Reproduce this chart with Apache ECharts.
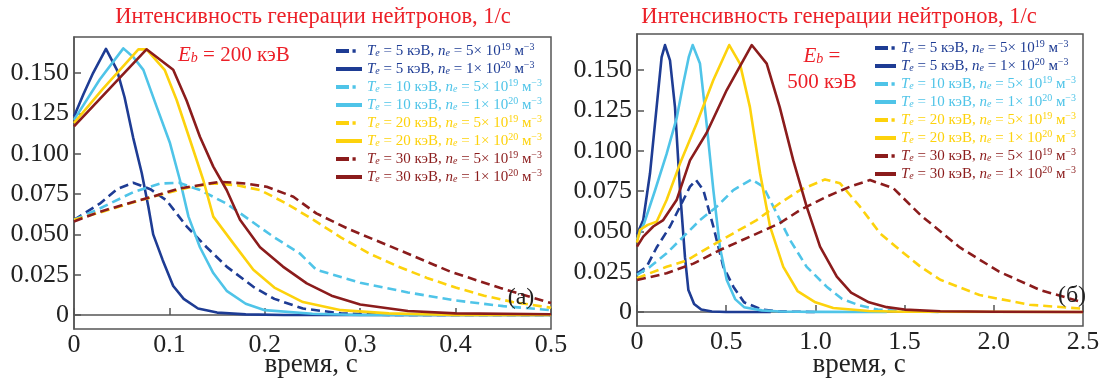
<!DOCTYPE html>
<html>
<head>
<meta charset="utf-8">
<script src="https://cdn.jsdelivr.net/npm/echarts@6/dist/echarts.min.js"></script>
<style>
  html, body { margin: 0; padding: 0; background: #fff; }
  #chart { width: 1101px; height: 385px; }
</style>
</head>
<body>
<div id="chart"></div>
<script>
// (а) Eb = 200 кэВ, время 0..0.5 c
const a_5_19 = [[0,.059],[.027,.069],[.045,.078],[.062,.082],[.08,.078],[.097,.071],[.118,.055],[.139,.042],[.16,.030],[.188,.0175],[.21,.010],[.24,.004],[.28,.001],[.33,0],[.5,0]];
const a_5_20 = [[0,.123],[.01,.137],[.02,.150],[.0335,.165],[.045,.152],[.053,.135],[.062,.110],[.071,.088],[.078,.067],[.083,.050],[.093,.034],[.104,.018],[.115,.010],[.13,.004],[.15,.0015],[.18,.0004],[.22,0],[.5,0]];
const a_10_19 = [[0,.059],[.027,.066],[.0625,.0763],[.09,.0815],[.11,.082],[.132,.0775],[.16,.069],[.184,.059],[.209,.0485],[.237,.038],[.254,.028],[.3,.020],[.35,.014],[.4,.009],[.45,.0055],[.5,.003]];
const a_10_20 = [[0,.121],[.027,.146],[.0517,.1653],[.062,.160],[.0727,.152],[.0867,.129],[.1006,.1066],[.111,.0837],[.12,.061],[.132,.042],[.146,.026],[.16,.015],[.18,.007],[.2,.003],[.25,.0008],[.3,0],[.5,0]];
const a_20_19 = [[0,.059],[.03,.064],[.06,.0695],[.09,.0745],[.12,.079],[.146,.0816],[.17,.0805],[.195,.0775],[.223,.069],[.251,.059],[.28,.048],[.31,.038],[.34,.030],[.37,.023],[.4,.017],[.43,.012],[.46,.008],[.5,.0045]];
const a_20_20 = [[0,.119],[.03,.140],[.0675,.1647],[.076,.1647],[.095,.152],[.1076,.1333],[.1216,.1085],[.1355,.0837],[.146,.061],[.167,.0444],[.188,.028],[.21,.017],[.24,.008],[.28,.003],[.33,.001],[.4,0],[.5,0]];
const a_30_19 = [[0,.058],[.027,.064],[.05,.068],[.08,.073],[.111,.0785],[.153,.0826],[.18,.0815],[.202,.0795],[.23,.0733],[.254,.063],[.289,.053],[.342,.040],[.394,.027],[.447,.0167],[.5,.0074]];
const a_30_20 = [[0,.117],[.04,.142],[.076,.1647],[.104,.152],[.118,.133],[.132,.1105],[.146,.092],[.16,.0775],[.174,.059],[.195,.042],[.219,.030],[.244,.0196],[.27,.012],[.3,.0065],[.35,.0025],[.4,.001],[.5,.0005]];

// (б) Eb = 500 кэВ, время 0..2.5 c
const b_5_19 = [[0,.024],[.054,.028],[.11,.040],[.185,.053],[.241,.0653],[.297,.0777],[.331,.0818],[.372,.0756],[.428,.053],[.484,.028],[.54,.0157],[.6,.006],[.7,.0015],[.8,.0003],[1.0,0]];
const b_5_20 = [[0,.048],[.035,.057],[.073,.086],[.11,.127],[.138,.158],[.157,.1655],[.185,.156],[.213,.127],[.241,.0756],[.269,.034],[.288,.0136],[.32,.005],[.36,.0015],[.42,.0003],[.5,0],[.75,0]];
const b_10_19 = [[0,.023],[.073,.028],[.166,.0364],[.26,.0467],[.353,.057],[.447,.0653],[.54,.0756],[.643,.0822],[.708,.0777],[.783,.0612],[.858,.0446],[.951,.028],[1.063,.0157],[1.15,.008],[1.25,.004],[1.35,.0015],[1.5,.0005],[1.7,0]];
const b_10_20 = [[0,.045],[.04,.055],[.1,.075],[.166,.098],[.222,.12],[.26,.142],[.29,.158],[.312,.1655],[.353,.154],[.39,.117],[.428,.0756],[.465,.040],[.503,.0198],[.55,.008],[.6,.003],[.7,.001],[.8,.0003],[1.0,.0001],[1.4,0]];
const b_20_19 = [[0,.021],[.166,.028],[.279,.032],[.409,.0405],[.54,.0488],[.671,.057],[.80,.0674],[.914,.0756],[1.054,.0822],[1.138,.0798],[1.25,.0653],[1.362,.0488],[1.474,.0384],[1.59,.028],[1.70,.020],[1.92,.0105],[2.2,.0045],[2.5,.002]];
const b_20_20 = [[0,.043],[.017,.051],[.06,.054],[.11,.056],[.166,.0694],[.241,.092],[.335,.117],[.428,.1438],[.517,.1655],[.577,.154],[.633,.127],[.69,.086],[.746,.0529],[.82,.028],[.9,.013],[1.0,.006],[1.1,.0025],[1.3,.0006],[1.5,.0002],[2.5,0]];
const b_30_19 = [[0,.0198],[.166,.024],[.316,.030],[.465,.0384],[.633,.0467],[.80,.055],[.914,.0632],[1.063,.0715],[1.194,.0777],[1.306,.0818],[1.437,.0767],[1.59,.060],[1.81,.040],[2.03,.025],[2.26,.0136],[2.5,.006]];
const b_30_20 = [[0,.0405],[.035,.0467],[.091,.053],[.147,.057],[.222,.0694],[.297,.094],[.39,.111],[.503,.1376],[.643,.1655],[.727,.154],[.80,.127],[.876,.094],[.951,.0653],[1.026,.0405],[1.12,.0219],[1.2,.012],[1.3,.006],[1.4,.003],[1.5,.0015],[1.7,.0005],[2.0,.0002],[2.5,0]];

const leftXTicks = [0, 0.1, 0.2, 0.3, 0.4, 0.5];
const leftXLabels = ['0', '0.1', '0.2', '0.3', '0.4', '0.5'];
const rightXTicks = [0, 0.5, 1.0, 1.5, 2.0, 2.5];
const rightXLabels = ['0', '0.5', '1.0', '1.5', '2.0', '2.5'];
const yTicks = [0, 0.025, 0.05, 0.075, 0.1, 0.125, 0.15];
const yLabels = ['0', '0.025', '0.050', '0.075', '0.100', '0.125', '0.150'];

const temps = [5, 5, 10, 10, 20, 20, 30, 30];
const dens = ['5e19', '1e20', '5e19', '1e20', '5e19', '1e20', '5e19', '1e20'];
const leftData = [a_5_19, a_5_20, a_10_19, a_10_20, a_20_19, a_20_20, a_30_19, a_30_20];
const rightData = [b_5_19, b_5_20, b_10_19, b_10_20, b_20_19, b_20_20, b_30_19, b_30_20];

const colors = { 5: '#1e3c94', 10: '#4fc4e8', 20: '#fdd20c', 30: '#8b1c1c' };
const RED = '#ec2028';
const SERIF = '"Liberation Serif", "Times New Roman", serif';
const TITLE = 'Интенсивность генерации нейтронов, 1/с';
const X_NAME = 'время, с';

function pickLabel(v, ticks, labels) {
  const i = ticks.findIndex((t) => Math.abs(t - v) < 1e-9);
  return i < 0 ? '' : labels[i];
}

function legendLabel(te, ne) {
  const n = ne === '5e19' ? '5× 10{sup|19}' : '1× 10{sup|20}';
  return `{i|T}{sub|e} = ${te} кэВ, {i|n}{sub|e} = ${n} м{sup|−3}`;
}

const labelByName = {};
const series = [];
const legends = [[], []];

[leftData, rightData].forEach((group, g) => {
  group.forEach((data, k) => {
    const te = temps[k], ne = dens[k];
    const dashed = ne === '5e19';
    const name = `Te${te} ne${ne} ${g === 0 ? 'а' : 'б'}`;
    labelByName[name] = legendLabel(te, ne);
    const w = g === 0 ? 26 : 21;
    const icon = dashed
      ? `path://M0,0H13V4H0Z M16.5,0.3H19.7V3.7H16.5Z M${w - 0.1},0H${w}V0.1H${w - 0.1}Z`
      : `path://M0,0H${w}V4H0Z`;
    legends[g].push({ name, icon, textStyle: { color: colors[te] } });
    series.push({
      name,
      type: 'line',
      xAxisIndex: g,
      yAxisIndex: g,
      data,
      showSymbol: false,
      symbol: 'none',
      smooth: false,
      color: colors[te],
      lineStyle: { color: colors[te], width: 2.6, type: dashed ? [9, 5] : 'solid', join: 'round' },
      z: 2 + k,
    });
  });
});

const richLegend = {
  i: { fontFamily: SERIF, fontSize: 15, fontStyle: 'italic', lineHeight: 15 },
  sub: { fontFamily: SERIF, fontSize: 10, fontStyle: 'italic', lineHeight: 15, padding: [5, 0, 0, 0] },
  sup: { fontFamily: SERIF, fontSize: 10, lineHeight: 15, padding: [0, 0, 8, 0] },
};

function makeLegend(g, left, top, w) {
  return {
    data: legends[g],
    orient: 'vertical',
    left, top,
    itemWidth: w, itemHeight: 4,
    itemGap: 0,
    padding: 0,
    selectedMode: false,
    itemStyle: { borderWidth: 0 },
    formatter: (name) => labelByName[name],
    textStyle: { fontFamily: SERIF, fontSize: 15, lineHeight: 15, rich: richLegend },
  };
}

const axisCommon = {
  axisLine: { show: true, lineStyle: { color: '#555', width: 1.5 } },
  axisTick: { show: true, inside: true, length: 7, lineStyle: { color: '#555', width: 1.5 } },
  splitLine: { show: false },
};

function xAxis(g, max, interval, ticks, labels) {
  return Object.assign({}, axisCommon, {
    type: 'value', gridIndex: g, min: 0, max, interval,
    axisLabel: {
      fontFamily: SERIF, fontSize: 26, color: '#222', margin: 3,
      formatter: (v) => pickLabel(v, ticks, labels),
    },
  });
}

function yAxis(g) {
  return Object.assign({}, axisCommon, {
    type: 'value', gridIndex: g, min: -0.00868, max: 0.17235,
    minInterval: 0.025, maxInterval: 0.025,
    axisLabel: {
      fontFamily: SERIF, fontSize: 26, color: '#222', margin: 5,
      showMinLabel: false, showMaxLabel: false,
      formatter: (v) => pickLabel(v, yTicks, yLabels),
    },
  });
}

const gridStyle = {
  show: true, borderColor: '#555', borderWidth: 1.5, backgroundColor: 'transparent',
  containLabel: false, outerBoundsMode: 'none',
};

const subRich = (size) => ({
  i: { font: `italic ${size}px ${SERIF}` },
  s: { font: `italic ${Math.round(size * 0.68)}px ${SERIF}`, padding: [6, 0, 0, 0] },
});

function label(x, y, text, size, fill, align, rich) {
  return { type: 'text', x, y, z: 10, style: { text, font: `${size}px ${SERIF}`, fill, align, verticalAlign: 'middle', rich } };
}

const chart = echarts.init(document.getElementById('chart'), null, { renderer: 'canvas' });
chart.setOption({
  animation: false,
  backgroundColor: '#fff',
  grid: [
    Object.assign({ left: 74, top: 37, width: 477, height: 292 }, gridStyle),
    Object.assign({ left: 637, top: 34, width: 446, height: 292 }, gridStyle),
  ],
  xAxis: [
    xAxis(0, 0.5, 0.1, leftXTicks, leftXLabels),
    xAxis(1, 2.5, 0.5, rightXTicks, rightXLabels),
  ],
  yAxis: [yAxis(0), yAxis(1)],
  legend: [makeLegend(0, 336, 42, 26), makeLegend(1, 875, 39, 21)],
  series,
  graphic: [
    label(313, 17, TITLE, 22.5, RED, 'center'),
    label(839, 17, TITLE, 22.5, RED, 'center'),
    label(311, 365, X_NAME, 27, '#222', 'center'),
    label(859, 365, X_NAME, 27, '#222', 'center'),
    label(178, 55, '{i|E}{s|b} = 200 кэВ', 21, RED, 'left', subRich(21)),
    label(822, 56, '{i|E}{s|b} =', 21, RED, 'center', subRich(21)),
    label(822, 82, '500 кэВ', 21, RED, 'center'),
    label(521, 298, '(а)', 24, '#222', 'center'),
    label(1072, 296, '(б)', 24, '#222', 'center'),
  ],
});
window.addEventListener('resize', () => chart.resize());
</script>
</body>
</html>
